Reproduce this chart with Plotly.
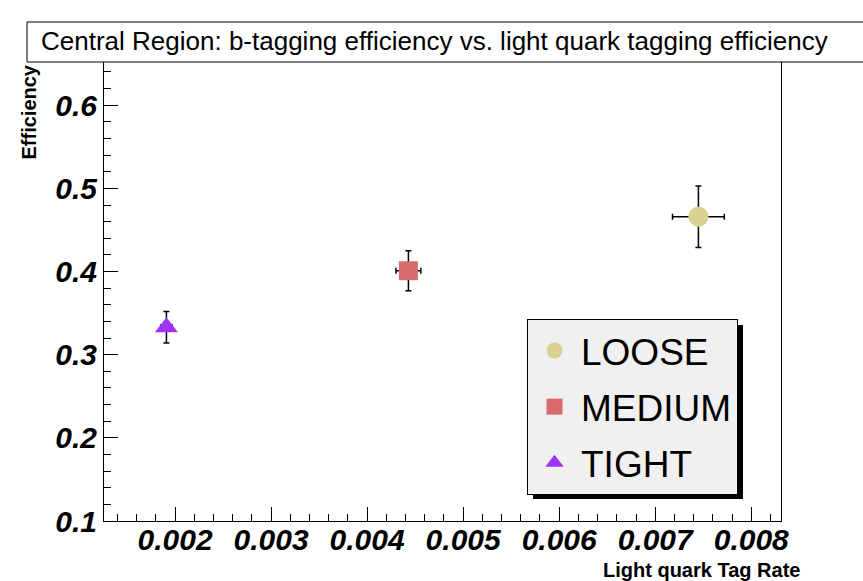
import plotly.graph_objects as go

# Data
names = ["LOOSE", "MEDIUM", "TIGHT"]
x_rate = [0.00745, 0.00443, 0.00191]
x_err = [0.00027, 0.00013, 0.00006]
y_eff = [0.466, 0.401, 0.333]
y_err = [0.037, 0.024, 0.019]
symbols = ["circle", "square", "triangle-up"]
colors = ["#d8d190", "#d86c6c", "#a033ff"]
sizes = [20, 19, 20]

x_ticks = [0.002, 0.003, 0.004, 0.005, 0.006, 0.007, 0.008]
x_ticktext = ["0.002", "0.003", "0.004", "0.005", "0.006", "0.007", "0.008"]
y_ticks = [0.1, 0.2, 0.3, 0.4, 0.5, 0.6]
y_ticktext = ["0.1", "0.2", "0.3", "0.4", "0.5", "0.6"]

W, H = 863, 581
L, R, T, B = 104, 82, 62, 60
pw, ph = W - L - R, H - T - B

def px2x(px):
    return (px - L) / pw

def py2y(py):
    return (H - B - py) / ph

fig = go.Figure()
for i in range(3):
    fig.add_trace(go.Scatter(
        x=[x_rate[i]], y=[y_eff[i]], name=names[i], mode="markers",
        legendgroup=names[i],
        marker=dict(symbol=symbols[i], color=colors[i], size=sizes[i], line=dict(width=0)),
        error_x=dict(type="data", array=[x_err[i]], color="black", thickness=1.5, width=3),
        error_y=dict(type="data", array=[y_err[i]], color="black", thickness=1.5, width=3),
    ))

tickfont = dict(family="Liberation Sans, Arial", size=30, color="black", weight="bold", style="italic")

fig.update_layout(
    width=W, height=H,
    margin=dict(l=L, r=R, t=T, b=B),
    paper_bgcolor="white", plot_bgcolor="white",
    font=dict(family="Liberation Sans, Arial", color="black"),
    showlegend=True,
    legend=dict(
        x=px2x(527), y=py2y(319), xanchor="left", yanchor="top",
        bgcolor="#f0f0f0", bordercolor="black", borderwidth=1,
        font=dict(size=37, color="black", family="Liberation Sans, Arial"),
        tracegroupgap=5, itemwidth=43,
    ),
    xaxis=dict(
        range=[0.00126, 0.00831], showgrid=False, zeroline=False,
        showline=True, linecolor="black", linewidth=1, mirror=True,
        ticks="inside", ticklen=14, tickcolor="black", tickwidth=1,
        tickvals=x_ticks, ticktext=x_ticktext, tickfont=tickfont,
        ticklabelstandoff=-8,
        minor=dict(dtick=0.0002, tick0=0.002, ticks="inside", ticklen=7, tickcolor="black"),
    ),
    yaxis=dict(
        range=[0.1, 0.652], showgrid=False, zeroline=False,
        showline=True, linecolor="black", linewidth=1, mirror=True,
        ticks="inside", ticklen=14, tickcolor="black", tickwidth=1,
        tickvals=y_ticks, ticktext=y_ticktext, tickfont=tickfont,
        minor=dict(dtick=0.02, tick0=0.1, ticks="inside", ticklen=7, tickcolor="black"),
    ),
)

# Legend shadow
fig.add_shape(type="rect", xref="paper", yref="paper",
              x0=px2x(533), x1=px2x(743), y0=py2y(499), y1=py2y(325),
              fillcolor="black", line=dict(width=0), layer="above")

# Title box
fig.add_shape(type="rect", xref="paper", yref="paper",
              x0=px2x(27), x1=px2x(870), y0=py2y(62), y1=py2y(22),
              fillcolor="white", line=dict(color="black", width=1), layer="above")
fig.add_annotation(text="Central Region: b-tagging efficiency vs. light quark tagging efficiency",
                   xref="paper", yref="paper", x=px2x(39), y=py2y(41),
                   xanchor="left", yanchor="middle", showarrow=False,
                   font=dict(size=26, color="black", family="Liberation Sans, Arial"))

# Axis titles
fig.add_annotation(text="Efficiency", xref="paper", yref="paper",
                   x=px2x(28), y=py2y(63), xanchor="center", yanchor="top",
                   textangle=-90, showarrow=False,
                   font=dict(size=20, color="black", family="Liberation Sans, Arial", weight="bold"))
fig.add_annotation(text="Light quark Tag Rate", xref="paper", yref="paper",
                   x=px2x(801), y=py2y(582), xanchor="right", yanchor="bottom",
                   showarrow=False, borderpad=0,
                   font=dict(size=20, color="black", family="Liberation Sans, Arial", weight="bold"))

fig.write_html("out.html")
